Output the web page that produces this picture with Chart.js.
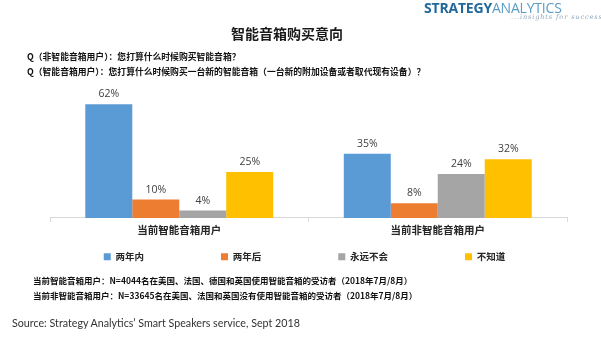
<!DOCTYPE html>
<html><head><meta charset="utf-8">
<script src="https://cdn.jsdelivr.net/npm/chart.js@4"></script>
<style>
html,body{margin:0;padding:0;background:#fff;}
#wrap{position:relative;width:601px;height:337px;overflow:hidden;}
#c{position:absolute;left:0;top:0;}
.t{position:absolute;white-space:nowrap;font-family:"Noto Sans CJK SC","Noto Sans",sans-serif;}
</style></head>
<body><div id="wrap">
<canvas id="c" width="601" height="337"></canvas>
<div class="t" style="left:424px;top:-0.5px;font-family:'Open Sans';font-size:14px;line-height:16px;letter-spacing:-0.2px;"><span style="font-weight:700;color:#22699a;">STRATEGY</span><span style="color:#5b9cc4;">ANALYTICS</span></div>
<div class="t" style="left:511px;top:13px;font-family:'DejaVu Serif';font-style:italic;font-size:6.5px;line-height:8px;color:#8ea3b8;letter-spacing:0.9px;">...insights for success</div>
<div class="t" style="left:231px;top:25.5px;font-size:14px;line-height:14px;font-weight:700;color:#1a1a1a;">智能音箱购买意向</div>
<div class="t" style="left:27px;top:53.2px;font-size:8.8px;line-height:8.8px;font-weight:700;color:#111;">Q（非智能音箱用户）：您打算什么时候购买智能音箱？</div>
<div class="t" style="left:27px;top:68.2px;font-size:8.8px;line-height:8.8px;font-weight:700;color:#111;">Q（智能音箱用户）：您打算什么时候购买一台新的智能音箱（一台新的附加设备或者取代现有设备）？</div>
<div class="t" style="left:33px;top:275.7px;font-size:8.5px;line-height:8.5px;font-weight:700;color:#111;">当前智能音箱用户：N=4044名在美国、法国、德国和英国使用智能音箱的受访者（2018年7月/8月）</div>
<div class="t" style="left:33px;top:290.7px;font-size:8.5px;line-height:8.5px;font-weight:700;color:#111;">当前非智能音箱用户：N=33645名在美国、法国和英国没有使用智能音箱的受访者（2018年7月/8月）</div>
<div class="t" style="left:12px;top:316.5px;font-family:Lato;font-size:10.7px;line-height:11px;color:#333;">Source: Strategy Analytics’ Smart Speakers service, Sept 2018</div>
</div>
<script>
const categories = ['当前智能音箱用户', '当前非智能音箱用户'];
const seriesNames = ['两年内', '两年后', '永远不会', '不知道'];
const within2Years = [62, 35];
const after2Years = [10, 8];
const never = [4, 24];
const dontKnow = [25, 32];
const seriesColors = ['#5B9BD5', '#ED7D31', '#A5A5A5', '#FFC000'];
const seriesValues = [within2Years, after2Years, never, dontKnow];

const CJK = '"Noto Sans CJK SC", "Noto Sans", sans-serif';

const valueLabels = {
  id: 'valueLabels',
  afterDatasetsDraw(chart) {
    const ctx = chart.ctx;
    ctx.save();
    ctx.font = '10.5px "Open Sans"';
    ctx.fillStyle = '#404040';
    ctx.textAlign = 'center';
    ctx.textBaseline = 'middle';
    chart.data.datasets.forEach((ds, i) => {
      chart.getDatasetMeta(i).data.forEach((bar, j) => {
        ctx.fillText(ds.data[j] + '%', bar.x, bar.y - 10);
      });
    });
    ctx.restore();
  }
};

const legendPlace = {
  id: 'legendPlace',
  afterLayout(chart) {
    const lg = chart.legend;
    const p = lg.options.labels.padding;
    const dy = 252 - p - lg.top;
    lg.top += dy; lg.bottom += dy;
    lg.left += 4; lg.right += 4;
  }
};

new Chart(document.getElementById('c'), {
  type: 'bar',
  data: {
    labels: categories,
    datasets: seriesNames.map((n, i) => ({
      label: n,
      data: seriesValues[i],
      backgroundColor: seriesColors[i],
      borderWidth: 0,
      categoryPercentage: 0.727,
      barPercentage: 1.0
    }))
  },
  options: {
    responsive: false,
    animation: false,
    devicePixelRatio: 1,
    layout: { padding: { top: 95, bottom: 2, left: 0, right: 0 } },
    scales: {
      x: {
        grid: { display: true, drawOnChartArea: false, drawTicks: true, tickLength: 4, color: '#D9D9D9', offset: true },
        border: { display: true, color: '#D9D9D9', width: 1 },
        ticks: { padding: 2, color: '#262626', font: { family: CJK, size: 10.5, weight: 'bold' } }
      },
      y: {
        min: 0, max: 67,
        display: true,
        grid: { display: false }, border: { display: false }, ticks: { display: false },
        afterFit(s) { s.width = 50; }
      },
      y2: {
        position: 'right', display: true,
        grid: { display: false }, border: { display: false }, ticks: { display: false },
        afterFit(s) { s.width = 34; }
      }
    },
    plugins: {
      legend: {
        position: 'bottom',
        labels: { boxWidth: 7, boxHeight: 7, padding: 77, color: '#262626', font: { family: CJK, size: 9.5, weight: 'bold' } }
      },
      tooltip: { enabled: false }
    }
  },
  plugins: [valueLabels, legendPlace]
});
</script>
</body></html>
